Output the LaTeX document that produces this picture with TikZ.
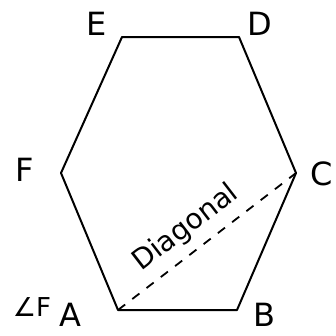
\documentclass[tikz,border=0pt]{standalone}
\usepackage{fontspec}
\setsansfont{DejaVu Sans}
\begin{document}
\begin{tikzpicture}[x=1pt,y=-1pt,
  edge/.style={line width=2pt, line join=round},
  diag/.style={line width=1.8pt, dash pattern=on 9pt off 9pt},
  lbl/.style={font=\sffamily\fontsize{32}{32}\selectfont, inner sep=0pt}]
\useasboundingbox (0,0) rectangle (336,335);
\coordinate (A) at (118,310);
\coordinate (B) at (237,310);
\coordinate (C) at (296,173);
\coordinate (D) at (239,37);
\coordinate (E) at (122,37);
\coordinate (F) at (61,173);
\draw[edge] (A) -- (B) -- (C) -- (D) -- (E) -- (F) -- cycle;
\draw[diag] (A) -- (C);
\node[lbl] (lE) at (97,24) {E};
\node[lbl] (lD) at (260,24) {D};
\node[lbl] (lC) at (322,174) {C};
\node[lbl] (lB) at (264,315) {B};
\node[lbl] (lA) at (70,315) {A};
\node[lbl] (lF) at (25,170) {F};
\node[lbl, font=\sffamily\fontsize{26}{26}\selectfont] (lang) at (32,307) {∠F};
\node[lbl, font=\sffamily\fontsize{28}{28}\selectfont, rotate=37.6] (ldiag) at (186,228) {Diagonal};
\end{tikzpicture}
\end{document}
